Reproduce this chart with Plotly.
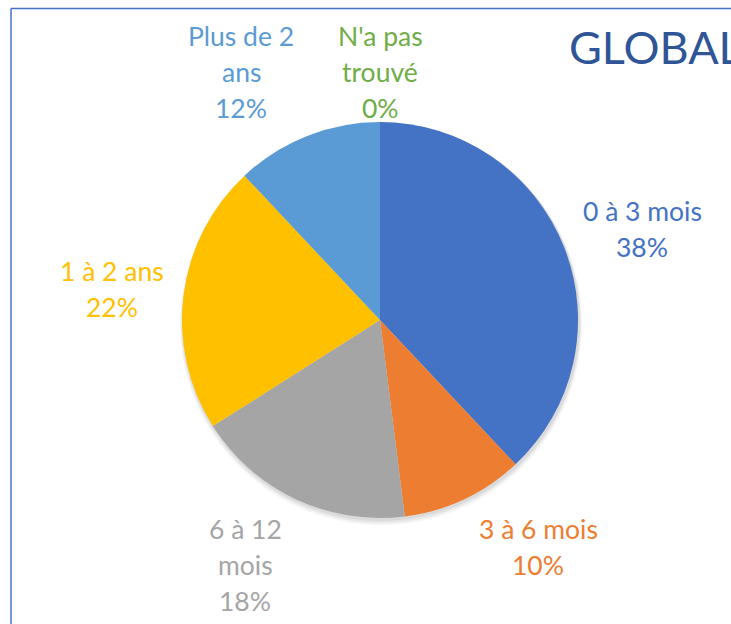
import textwrap
import plotly.graph_objects as go

# ---- data ----
categories = ["0 à 3 mois", "3 à 6 mois", "6 à 12 mois", "1 à 2 ans", "Plus de 2 ans", "N'a pas trouvé"]
values = [38, 10, 18, 22, 12, 0]
colors = ["#4472C4", "#ED7D31", "#A5A5A5", "#FFC000", "#5B9BD5", "#70AD47"]
title_text = "GLOBAL"

# ---- layout constants (pixels in the window) ----
W, H = 731, 624
OX, OY = 0, 0  # page body margin removed via post_script
CX, CY, R = 380, 320, 198
FONT = "Lato"
LABEL_SIZE = 26.5
LINE_GAP = 36
# label block anchor: (center x, first line center y)
label_pos = [(642, 211), (538, 529), (245, 529), (112, 271), (241, 36), (380, 36)]


def px_x(x):
    return (x - OX) / W


def px_y(y):
    return 1 - (y - OY) / H


def domain(cx, cy, r):
    return dict(x=[px_x(cx - r), px_x(cx + r)], y=[px_y(cy + r), px_y(cy - r)])


fig = go.Figure()

# soft shadow under the pie
for dy, dr, op in [(4, 3, 0.04), (3, 2, 0.05), (2, 1, 0.06)]:
    fig.add_trace(go.Pie(
        values=[1], labels=["shadow"], marker=dict(colors=[f"rgba(0,0,0,{op})"]),
        domain=domain(CX + 1, CY + dy, R + dr), textinfo="none", hoverinfo="skip",
        showlegend=False, sort=False,
    ))

fig.add_trace(go.Pie(
    labels=categories, values=values,
    marker=dict(colors=colors, line=dict(width=0)),
    domain=domain(CX, CY, R),
    direction="clockwise", rotation=0, sort=False,
    textinfo="none", textposition="none", showlegend=False,
))

total = sum(values)
for cat, val, col, (lx, ly) in zip(categories, values, colors, label_pos):
    lines = textwrap.wrap(cat, 10) + [f"{round(100 * val / total)}%"]
    for i, line in enumerate(lines):
        fig.add_annotation(
            x=px_x(lx), y=px_y(ly + i * LINE_GAP), xref="paper", yref="paper",
            text=line, showarrow=False, xanchor="center", yanchor="middle",
            font=dict(family=FONT, size=LABEL_SIZE, color=col),
        )

fig.add_annotation(
    x=px_x(567), y=px_y(47), xref="paper", yref="paper", text=title_text,
    showarrow=False, xanchor="left", yanchor="middle",
    font=dict(family=FONT, size=45, color="#2F5597"),
)

# chart-area border (top and left edges visible)
fig.add_shape(type="line", xref="paper", yref="paper",
              x0=px_x(11), x1=1.2, y0=px_y(8.5), y1=px_y(8.5),
              line=dict(color="#4472C4", width=1.5))
fig.add_shape(type="line", xref="paper", yref="paper",
              x0=px_x(11), x1=px_x(11), y0=px_y(8.5), y1=-0.2,
              line=dict(color="#4472C4", width=1.5))

fig.update_layout(
    width=W, height=H, margin=dict(l=0, r=0, t=0, b=0),
    paper_bgcolor="white", plot_bgcolor="white", showlegend=False,
)

fig.write_html(
    "out.html",
    config={"displayModeBar": False},
    post_script="document.body.style.margin='0';document.body.style.overflow='hidden';",
)
